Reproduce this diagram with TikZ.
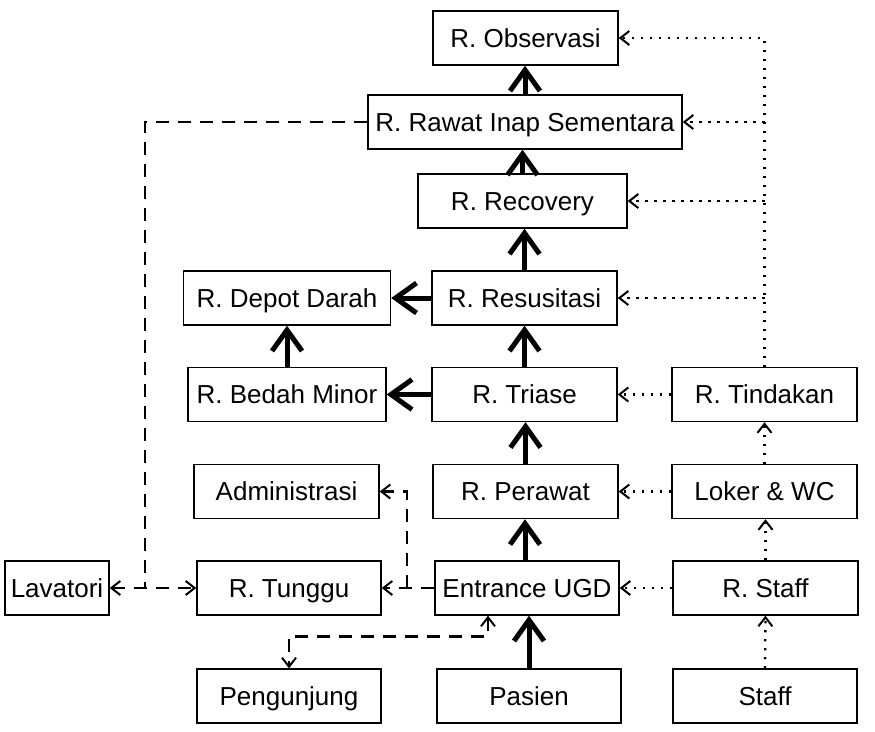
\documentclass[tikz,border=0pt]{standalone}
\usepackage{fontspec}
\setmainfont{Liberation Sans}
\usetikzlibrary{arrows.meta}

\tikzset{
  vt/.tip={Straight Barb[length=9pt,width=14pt,line width=2pt]},
  ft/.tip={Straight Barb[length=21pt,width=30pt,line width=5pt]}
}

\begin{document}
\begin{tikzpicture}[x=1pt,y=-1pt,
  room/.style={draw, line width=1.4pt, inner sep=0pt, minimum height=54pt,
    text height=18.7pt, text depth=0pt,
    align=center, font=\fontsize{26}{30}\selectfont},
  flow/.style={line width=5pt, -ft},
  staffpath/.style={line width=2.3pt, dash pattern=on 2.3pt off 6.7pt, -vt},
  visitpath/.style={line width=2.6pt, dash pattern=on 13pt off 9pt}
]
\useasboundingbox (0,0) rectangle (875,731);

% rooms
\node[room, minimum width=185pt] (obs)   at (525.5,38)  {R. Observasi};
\node[room, minimum width=314pt] (rawat) at (525,122)   {R. Rawat Inap Sementara};
\node[room, minimum width=209pt] (rec)   at (522.5,201) {R. Recovery};
\node[room, minimum width=207pt] (depot) at (287,298)   {R. Depot Darah};
\node[room, minimum width=185pt] (res)   at (524.5,298) {R. Resusitasi};
\node[room, minimum width=198pt] (bedah) at (287,394.5) {R. Bedah Minor};
\node[room, minimum width=185pt] (tri)   at (524.5,394.5) {R. Triase};
\node[room, minimum width=185pt] (tind)  at (764.5,394.5) {R. Tindakan};
\node[room, minimum width=185pt] (adm)   at (286.5,491.5) {Administrasi};
\node[room, minimum width=185pt] (per)   at (525.5,491.5) {R. Perawat};
\node[room, minimum width=185pt] (loker) at (764.5,491.5) {Loker \& WC};
\node[room, minimum width=104pt] (lav)   at (57,588)    {Lavatori};
\node[room, minimum width=184pt] (tung)  at (289,588)   {R. Tunggu};
\node[room, minimum width=184pt] (entr)  at (527,588)   {Entrance UGD};
\node[room, minimum width=185pt] (rstaf) at (765.5,588) {R. Staff};
\node[room, minimum width=184pt] (peng)  at (289,696)   {Pengunjung};
\node[room, minimum width=184pt] (pas)   at (529,696)   {Pasien};
\node[room, minimum width=184pt] (staff) at (765,696)   {Staff};

% patient flow
\draw[flow] (pas.north) -- (pas.north |- entr.south);
\draw[flow] ([xshift=-2pt]entr.north) -- ([xshift=-2pt]entr.north |- per.south);
\draw[flow] (per.north) -- (per.north |- tri.south);
\draw[flow] (tri.north) -- (tri.north |- res.south);
\draw[flow] (res.north) -- (res.north |- rec.south);
\draw[flow] (rec.north) -- (rec.north |- rawat.south);
\draw[flow] (rawat.north) -- (rawat.north |- obs.south);
\draw[flow] (res.west) -- (depot.east);
\draw[flow] (tri.west) -- (bedah.east);
\draw[flow] (bedah.north) -- (depot.south);

% staff circulation
\draw[staffpath] (staff.north) -- (rstaf.south);
\draw[staffpath] (rstaf.north) -- (rstaf.north |- loker.south);
\draw[staffpath] (loker.north) -- (loker.north |- tind.south);
\draw[staffpath] (rstaf.west) -- (entr.east);
\draw[staffpath] (loker.west) -- (per.east);
\draw[staffpath] (tind.west) -- (tri.east);
\draw[staffpath] (tind.north) |- (obs.east);
\draw[staffpath] (tind.north |- rawat.east) -- (rawat.east);
\draw[staffpath] (tind.north |- rec.east) -- (rec.east);
\draw[staffpath] (tind.north |- res.east) -- (res.east);

% visitor circulation
\coordinate (lavjoin) at (145,588);
\coordinate (admjoin) at (407,588);
\draw[visitpath] (rawat.west) -| (lavjoin);
\draw[visitpath, vt-vt] (lav.east) -- (tung.west);
\draw[visitpath, -vt] (entr.west) -- (tung.east);
\draw[visitpath, -vt] (admjoin) |- (adm.east);
\draw[visitpath, vt-vt] ([xshift=-39pt]entr.south) -- ++(0,21) -| (peng.north);

\end{tikzpicture}
\end{document}
